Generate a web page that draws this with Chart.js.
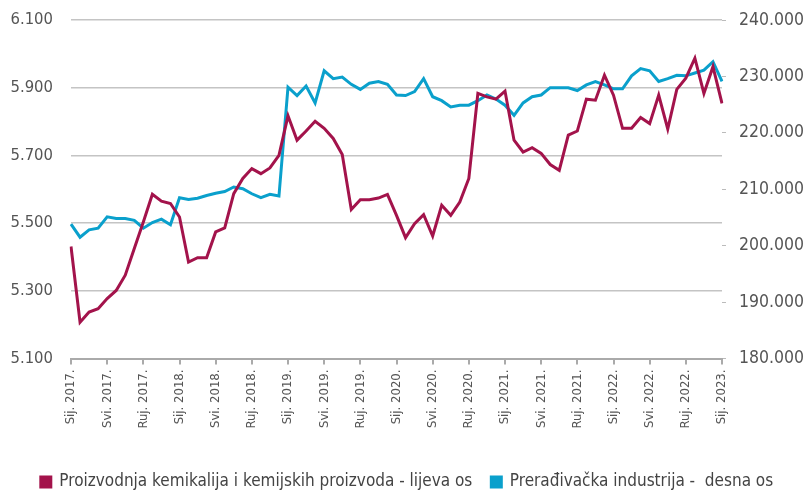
<!DOCTYPE html>
<html>
<head>
<meta charset="utf-8">
<script src="https://cdn.jsdelivr.net/npm/chart.js@4/dist/chart.umd.min.js"></script>
<style>
  html, body { margin: 0; padding: 0; background: #fff; }
  #wrap { width: 806px; height: 492px; }
</style>
</head>
<body>
<div id="wrap"><canvas id="myChart" width="806" height="492"></canvas></div>
<script>
const monthNames = ['Sij.', 'Velj.', 'Ožu.', 'Tra.', 'Svi.', 'Lip.', 'Srp.', 'Kol.', 'Ruj.', 'Lis.', 'Stu.', 'Pro.'];
const years = [2017, 2018, 2019, 2020, 2021, 2022, 2023];

// Proizvodnja kemikalija i kemijskih proizvoda (lijeva os), Sij. 2017. - Sij. 2023.
const chemicals = [
  5431, 5207, 5237, 5247, 5277, 5301, 5346, 5425, 5503, 5585, 5565, 5558,
  5518, 5385, 5398, 5398, 5474, 5486, 5587, 5632, 5661, 5646, 5663, 5700,
  5817, 5745, 5772, 5801, 5780, 5750, 5703, 5540, 5569, 5569, 5574, 5585,
  5523, 5457, 5498, 5525, 5462, 5553, 5523, 5562, 5632, 5883, 5873, 5866,
  5890, 5745, 5710, 5723, 5706, 5673, 5656, 5760, 5772, 5866, 5863, 5937,
  5878, 5780, 5780, 5812, 5794, 5878, 5778, 5895, 5928, 5987, 5883, 5962,
  5854
];

// Prerađivačka industrija (desna os)
const manufacturing = [
  203800, 201500, 202800, 203100, 205100, 204800, 204800, 204500, 203100, 204100, 204700, 203700,
  208500, 208200, 208400, 208900, 209300, 209600, 210400, 210100, 209200, 208500, 209100, 208800,
  228100, 226600, 228300, 225300, 231000, 229600, 229900, 228600, 227700, 228800, 229100, 228600,
  226700, 226600, 227300, 229600, 226400, 225700, 224600, 224900, 224900, 225700, 226700, 226000,
  224900, 223100, 225300, 226400, 226700, 228000, 228000, 228000, 227500, 228500, 229100, 228500,
  227800, 227800, 230100, 231400, 231000, 229100, 229600, 230200, 230100, 230600, 231100, 232600,
  229100
];

const labels = [];
years.forEach(y => monthNames.forEach(m => labels.push(m + ' ' + y + '.')));
labels.length = chemicals.length;

const fontFamily = '"Liberation Sans Narrow", "DejaVu Sans Condensed", sans-serif';
const fmt = v => String(Math.round(v)).replace(/\B(?=(\d{3})+(?!\d))/g, '.');

const ctx = document.getElementById('myChart').getContext('2d');
const myChart = new Chart(ctx, {
    type: 'line',
    data: {
        labels: labels,
        datasets: [{
            label: 'Proizvodnja kemikalija i kemijskih proizvoda - lijeva os',
            data: chemicals,
            borderColor: '#a3134b',
            backgroundColor: '#a3134b',
            borderWidth: 3,
            pointRadius: 0,
            tension: 0,
            yAxisID: 'y'
        }, {
            label: 'Prerađivačka industrija -  desna os',
            data: manufacturing,
            borderColor: '#0aa0cc',
            backgroundColor: '#0aa0cc',
            borderWidth: 3,
            pointRadius: 0,
            tension: 0,
            yAxisID: 'y1'
        }]
    },
    options: {
        responsive: false,
        animation: false,
        layout: { padding: { top: 20, right: 2, left: 10, bottom: 0 } },
        plugins: {
            tooltip: { enabled: false },
            legend: {
                position: 'bottom',
                maxHeight: 37.5,
                labels: {
                    boxWidth: 10,
                    boxHeight: 10,
                    padding: 19,
                    color: '#444',
                    font: { family: fontFamily, size: 17 }
                }
            }
        },
        scales: {
            x: {
                grid: {
                    drawOnChartArea: false,
                    tickLength: 6,
                    tickColor: c => (c.index % 4 === 0 ? '#aaa' : 'transparent'),
                    lineWidth: 2
                },
                border: { color: '#aaa', width: 2 },
                ticks: {
                    autoSkip: false,
                    maxRotation: 90,
                    minRotation: 90,
                    padding: 5,
                    color: '#555',
                    font: { family: fontFamily, size: 13 },
                    callback: (v, i) => (i % 4 === 0 ? labels[i] : '')
                },
                afterFit: s => { s.height = 96; }
            },
            y: {
                position: 'left',
                min: 5100,
                max: 6100,
                grid: { color: '#c4c4c4', lineWidth: 1.5, drawTicks: false },
                border: { display: false },
                ticks: {
                    stepSize: 200,
                    padding: 18,
                    color: '#555',
                    font: { family: fontFamily, size: 16.5 },
                    callback: v => fmt(v)
                },
                afterFit: s => { s.width = 61; s.paddingTop = 0; s.paddingBottom = 0; }
            },
            y1: {
                position: 'right',
                min: 180000,
                max: 240000,
                grid: { drawOnChartArea: false, tickLength: 4, color: '#bbb' },
                border: { display: false },
                ticks: {
                    stepSize: 10000,
                    padding: 13,
                    color: '#555',
                    font: { family: fontFamily, size: 17.5 },
                    callback: v => fmt(v)
                },
                afterFit: s => { s.width = 82; s.paddingTop = 0; s.paddingBottom = 0; }
            }
        }
    }
});
</script>
</body>
</html>
